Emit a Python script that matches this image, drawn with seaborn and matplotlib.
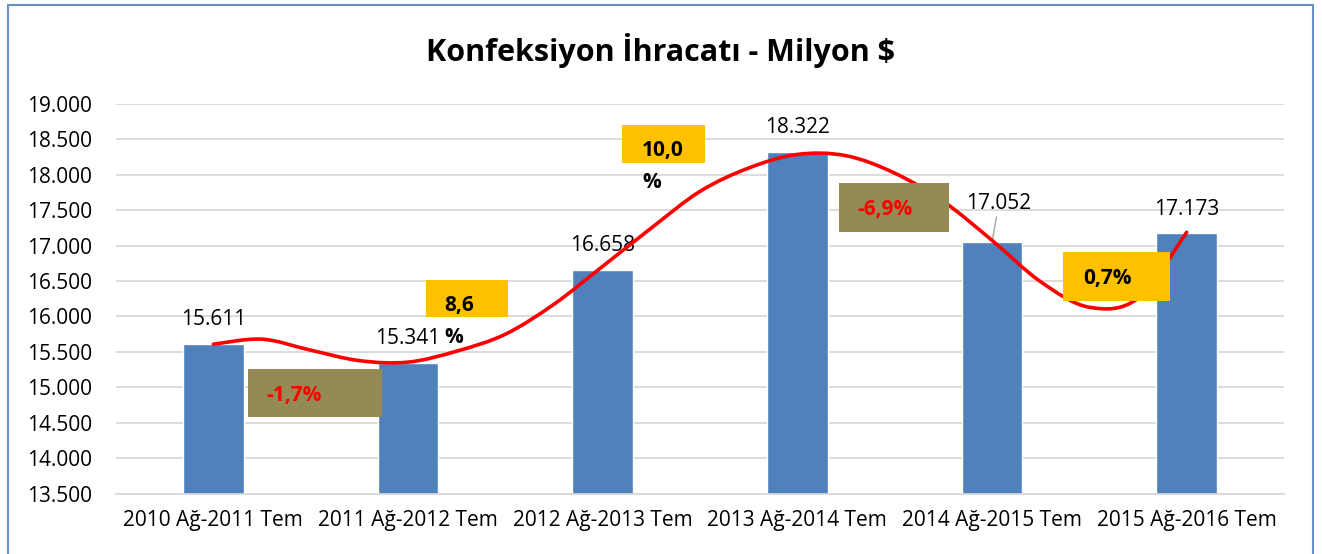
import numpy as np
import pandas as pd
import matplotlib
matplotlib.use("Agg")
import matplotlib.pyplot as plt
import seaborn as sns
from matplotlib.path import Path
from matplotlib.patches import PathPatch, Rectangle
from matplotlib.ticker import FuncFormatter

# data
periods = ["2010 Ağ-2011 Tem", "2011 Ağ-2012 Tem", "2012 Ağ-2013 Tem",
           "2013 Ağ-2014 Tem", "2014 Ağ-2015 Tem", "2015 Ağ-2016 Tem"]
exports = [15611, 15341, 16658, 18322, 17052, 17173]
change_pct = [-1.7, 8.6, 10.0, -6.9, 0.7]

# red freehand trend curve, read at quarter-category steps
curve_pos = [0, 0.25, 0.5, 0.75, 1, 1.25, 1.5, 1.75, 2, 2.25, 2.5,
             2.75, 3, 3.25, 3.5, 3.75, 4, 4.25, 4.5, 4.75, 5]
curve_vals = [15608, 15679, 15524, 15376, 15355, 15510, 15749, 16173, 16708, 17249, 17766,
              18096, 18288, 18270, 18024, 17625, 17075, 16490, 16130, 16257, 17188]

sns.set_theme(style="white")
plt.rcParams["font.family"] = ["Open Sans", "DejaVu Sans"]
plt.rcParams.update({"text.color": "black", "xtick.color": "black",
                     "ytick.color": "black", "axes.labelcolor": "black"})

W, H = 1322, 554
fig = plt.figure(figsize=(W / 100, H / 100), dpi=100)
ax = fig.add_axes([116 / W, 1 - 493.5 / H, (1284 - 116) / W, (493.5 - 104) / H])

df = pd.DataFrame({"period": periods, "value": exports})
sns.barplot(data=df, x="period", y="value", color="#4F81BD", saturation=1,
            width=0.31, ax=ax, zorder=2)

def dotted(v):
    return f"{v:,.0f}".replace(",", ".")

ax.set_xlim(-0.5, 5.5)
ax.set_ylim(13500, 19000)
ax.set_yticks(np.arange(13500, 19001, 500))
ax.yaxis.set_major_formatter(FuncFormatter(lambda v, _: dotted(v)))
ax.grid(axis="y", color="#d9d9d9", lw=1.3)
ax.set_axisbelow(True)
for s in ["left", "top", "right"]:
    ax.spines[s].set_visible(False)
ax.spines["bottom"].set_color("#d9d9d9")
ax.spines["bottom"].set_linewidth(1.3)
ax.tick_params(axis="y", length=0, labelsize=15, pad=17, labelcolor="black")
ax.tick_params(axis="x", length=0, labelsize=15, pad=12, labelcolor="black")
ax.set_xlabel("")
ax.set_ylabel("")

# value labels
for i, v in enumerate(exports):
    if i == 4:
        ax.annotate(dotted(v), xy=(i, v), xytext=(5, 28), textcoords="offset points",
                    ha="center", va="center", fontsize=15, color="black", zorder=3,
                    arrowprops=dict(arrowstyle="-", color="#a6a6a6", lw=1,
                                    shrinkA=0, shrinkB=0))
    else:
        ax.annotate(dotted(v), xy=(i, v), xytext=(0, 17.5), textcoords="offset points",
                    ha="center", va="center", fontsize=15, color="black", zorder=3)

# smooth curve (Catmull-Rom -> cubic Bezier)
pts = np.column_stack([curve_pos, curve_vals]).astype(float)
ext = np.vstack([pts[0], pts, pts[-1]])
verts = [tuple(pts[0])]
codes = [Path.MOVETO]
for k in range(1, len(ext) - 2):
    p0, p1, p2, p3 = ext[k - 1], ext[k], ext[k + 1], ext[k + 2]
    c1 = p1 + (p2 - p0) / 6
    c2 = p2 - (p3 - p1) / 6
    verts += [tuple(c1), tuple(c2), tuple(p2)]
    codes += [Path.CURVE4] * 3
ax.add_patch(PathPatch(Path(verts, codes), fill=False, edgecolor="#FF0000",
                       lw=2.6, capstyle="round", zorder=4))

# change boxes: (x0, x1, y0, y1, face, text x, text y, wrap)
olive, gold = "#948A54", "#FFC000"
boxes = [
    (0.177, 0.869, 14579, 15256, olive, 0.274, 14889, False),
    (1.090, 1.515, 15989, 16511, gold, 1.187, 16152, True),
    (2.100, 2.526, 18161, 18697, gold, 2.203, 18345, True),
    (3.213, 3.777, 17188, 17879, olive, 3.310, 17512, False),
    (4.367, 4.915, 16215, 16906, gold, 4.469, 16539, False),
]
for p, (x0, x1, y0, y1, face, tx, ty, wrap) in zip(change_pct, boxes):
    ax.add_patch(Rectangle((x0, y0), x1 - x0, y1 - y0, facecolor=face,
                           edgecolor="none", zorder=5))
    num = f"{p:.1f}".replace(".", ",")
    tcol = "#FF0000" if p < 0 else "black"
    if wrap:
        ax.text(tx, ty, num, ha="left", va="center", fontsize=15,
                fontweight="bold", color=tcol, zorder=6)
        ax.annotate("%", xy=(tx, ty), xytext=(0, -23), textcoords="offset points",
                    ha="left", va="center", fontsize=15, fontweight="bold",
                    color=tcol, zorder=6)
    else:
        ax.text(tx, ty, num + "%", ha="left", va="center", fontsize=15,
                fontweight="bold", color=tcol, zorder=6)

fig.text(0.5, 1 - 50 / H, "Konfeksiyon İhracatı - Milyon $", ha="center", va="center",
         fontsize=22, fontweight="bold", color="black")

# chart frame
fig.patches.append(Rectangle((8 / W, -0.05), (1313 - 8) / W, 1.05 - 5 / H,
                             transform=fig.transFigure, fill=False,
                             edgecolor="#6A8FC7", lw=1.5))

fig.savefig("out.png", dpi=100)
